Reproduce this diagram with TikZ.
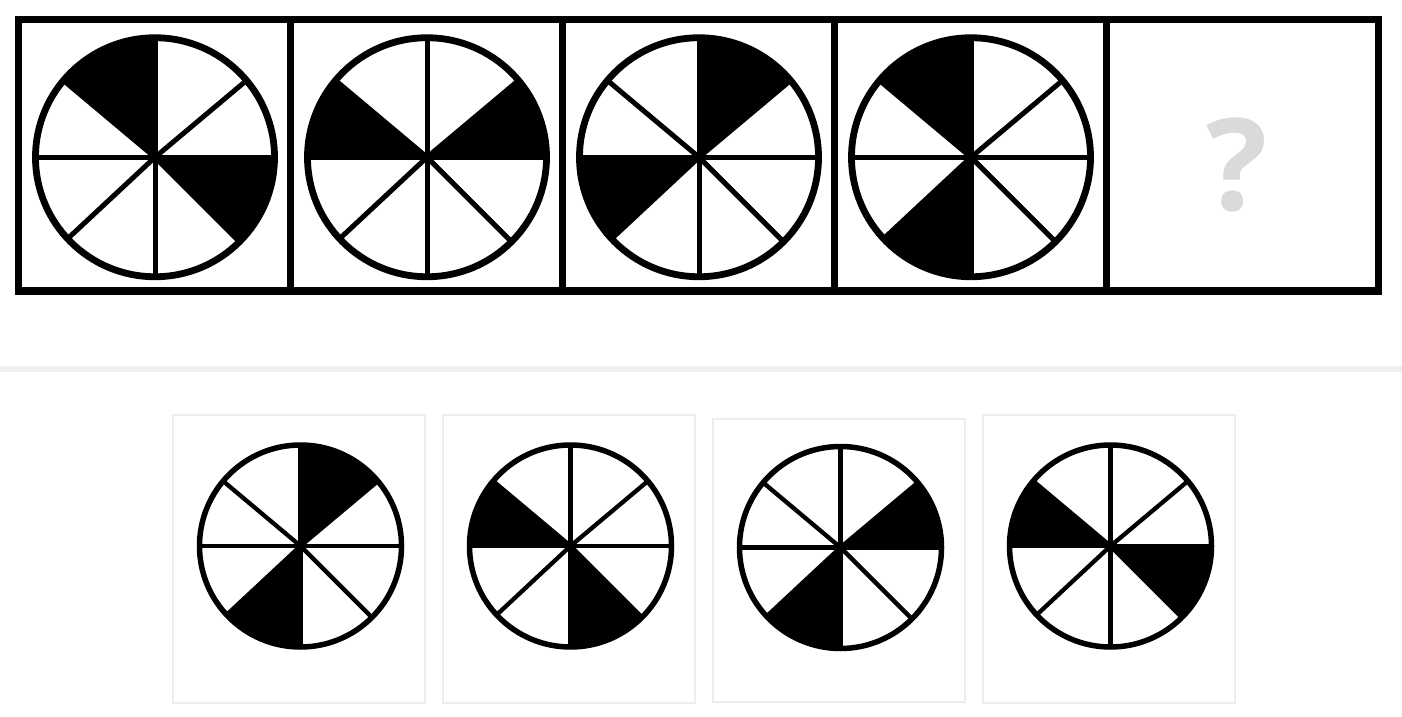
\documentclass[tikz,border=0pt]{standalone}
\usepackage{fontspec}
\setmainfont{Open Sans}
\usetikzlibrary{positioning}
\definecolor{rulegray}{HTML}{EFEFEF}
\definecolor{boxgray}{HTML}{EDEDED}
\definecolor{markgray}{HTML}{DADADA}
\tikzset{
    cell/.style={
        draw,
        line width=7pt,
        minimum width=272pt,
        minimum height=271.5pt,
        inner sep=0pt,
        outer sep=0pt
    },
    option/.style={
        draw=boxgray,
        line width=2pt,
        minimum width=252pt,
        minimum height=288pt,
        inner sep=0pt,
        outer sep=0pt
    },
    qmark/.style={
        text=markgray,
        font=\fontsize{128}{128}\selectfont\bfseries,
        inner sep=0pt
    },
    rim/.style={line width=6.8pt},
    spoke/.style={line width=5pt},
    divider/.style={draw=rulegray, line width=6pt}
}
% wheel: [extra styles]{centre}{radius}{black sectors as start/end}
\newcommand{\wheel}[4][]{
    \begin{scope}[shift={#2}, #1]
        \foreach \a/\b in {#4}
            \fill (0,0) -- (\a:#3) arc[start angle=\a, end angle=\b, radius=#3] -- cycle;
        \foreach \a in {0,40,90,140,180,223,270,315}
            \draw[spoke] (0,0) -- (\a:#3);
        \draw[rim] (0,0) circle[radius=#3];
    \end{scope}
}

\begin{document}
\begin{tikzpicture}[x=1pt, y=1pt]
    \useasboundingbox (0,0) rectangle (1402,716);
    % the row of five
    \node[cell] (c1) at (154,560.75) {};
    \node[cell, right=0pt of c1] (c2) {};
    \node[cell, right=0pt of c2] (c3) {};
    \node[cell, right=0pt of c3] (c4) {};
    \node[cell, right=0pt of c4] (c5) {};
    \wheel{([xshift=1pt,yshift=-2pt]c1.center)}{119.5}{90/140, 315/360}
    \wheel{([xshift=1pt,yshift=-2pt]c2.center)}{119.5}{0/40, 140/180}
    \wheel{([xshift=1pt,yshift=-2pt]c3.center)}{119.5}{40/90, 180/223}
    \wheel{([xshift=1pt,yshift=-2pt]c4.center)}{119.5}{90/140, 223/270}
    \node[qmark, xshift=-5pt, yshift=-10pt] (q) at (c5) {?};

    % grey rule
    \coordinate (ruleL) at (0,347);
    \coordinate (ruleR) at (1402,347);
    \draw[divider] (ruleL) -- (ruleR);

    % answers
    \node[option] (o1) at (299,157) {};
    \node[option, right=18pt of o1] (o2) {};
    \node[option, right=18pt of o2, minimum height=283pt, yshift=-1.5pt] (o3) {};
    \node[option, right=18pt of o3, yshift=1.5pt] (o4) {};
    \tikzset{rim/.style={line width=5.5pt}, spoke/.style={line width=4.3pt}}
    \wheel{([xshift=1.5pt,yshift=13pt]o1.center)}{101}{40/90, 223/270}
    \wheel{([xshift=1.5pt,yshift=13pt]o2.center)}{101}{140/180, 270/315}
    \wheel{([xshift=1.5pt,yshift=13pt]o3.center)}{101}{0/40, 223/270}
    \wheel{([xshift=1.5pt,yshift=13pt]o4.center)}{101}{140/180, 315/360}
\end{tikzpicture}
\end{document}
